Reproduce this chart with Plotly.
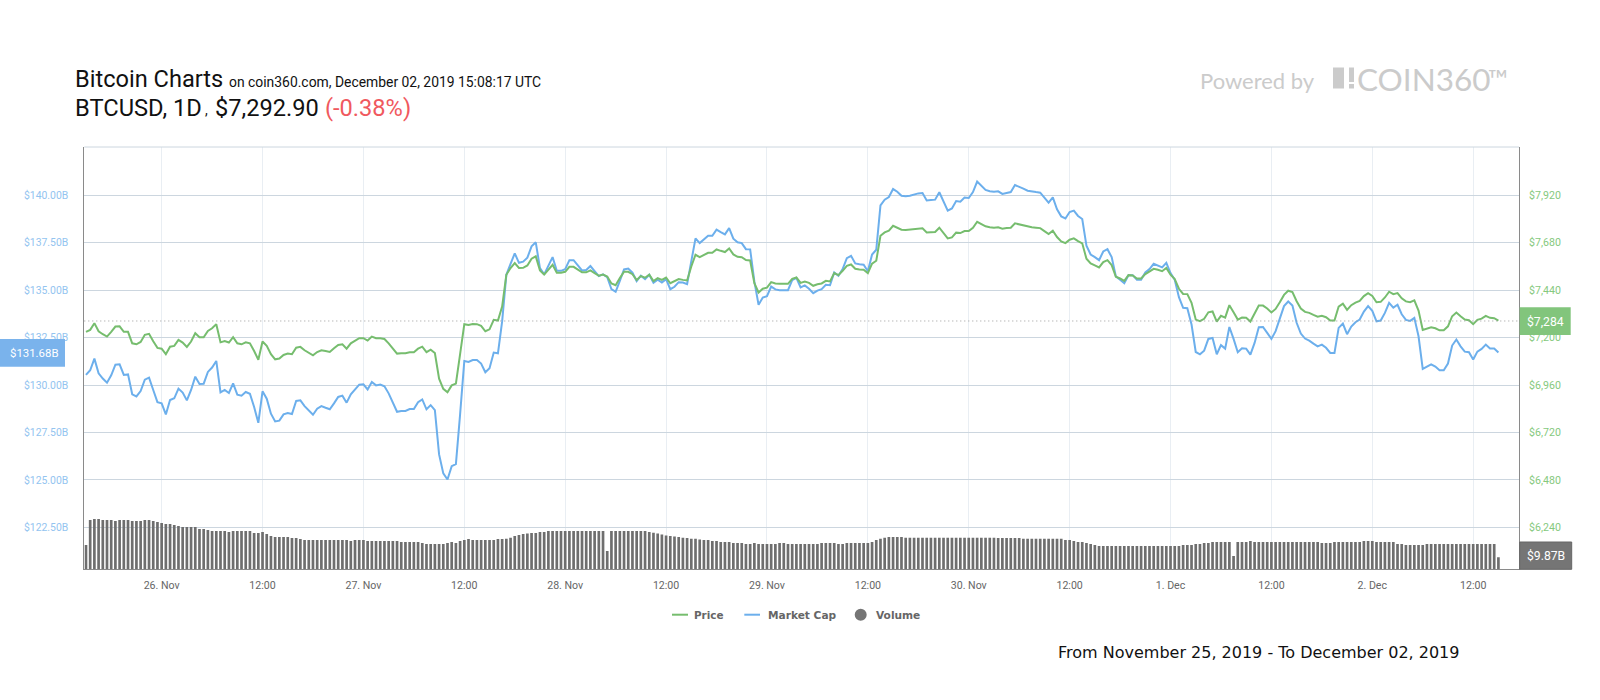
import pandas as pd
import plotly.graph_objects as go

START = "2019-11-25 15:00"

price = [
7229,7239,7273,7232,7217,7205,7229,7256,7257,7229,7229,7171,7166,7178,7214,7219,7181,7148,7144,7116,
7154,7158,7188,7175,7153,7180,7222,7202,7202,7234,7247,7268,7176,7183,7175,7202,7171,7166,7176,7171,
7132,7088,7180,7158,7116,7090,7094,7112,7119,7116,7149,7153,7136,7124,7110,7127,7136,7132,7127,7146,
7163,7166,7144,7171,7183,7197,7197,7185,7205,7197,7197,7193,7171,7146,7119,7121,7121,7126,7126,7144,
7154,7126,7139,7122,6992,6941,6923,6958,6967,7116,7268,7264,7269,7268,7259,7232,7242,7290,
7286,7357,7518,7552,7577,7552,7553,7565,7599,7611,7540,7519,7543,7568,7528,7528,7533,7558,7558,7543,
7530,7530,7540,7526,7513,7519,7509,7474,7465,7501,7533,7533,7521,7491,7511,7503,7518,7486,7501,7492,
7504,7475,7484,7496,7492,7489,7560,7619,7607,7616,7629,7629,7646,7639,7633,7651,7621,7609,7607,7592,
7590,7475,7428,7447,7453,7481,7474,7472,7472,7472,7497,7504,7477,7484,7477,7462,7470,7474,7487,7484,
7526,7516,
7538,7563,7570,7548,7545,7543,7526,7574,7589,7715,7732,7741,7766,7758,7746,7744,7746,7749,7753,7753,
7732,7732,7734,7756,7726,7702,7707,7731,7729,7739,7739,7756,7786,7775,7763,7758,7756,7758,7751,7754,
7756,7778,7773,7768,7761,7758,7756,7754,7739,7724,7741,7709,7687,7678,7695,7702,7688,7677,7599,7575,
7565,7555,7582,7592,7567,7508,7499,7487,7516,7514,7499,7499,7521,7533,7548,7543,7536,7552,7518,7496,
7447,7421,7420,7376,7291,7283,7295,7328,7332,7281,7310,7301,7364,7328,7291,7301,7300,7281,7320,7362,
7362,7347,7327,7345,7379,7416,7437,7430,7384,7347,7330,7325,7315,7306,7310,7303,7286,7286,7357,7372,
7340,7364,7377,7386,7410,7425,7411,7379,7381,7403,7432,7420,7425,7399,7383,7379,7388,7337,7239,7246,
7252,7247,7237,7237,7257,7308,7327,7308,7291,7288,7268,7290,7296,7310,7300,7298,7286,
]

market_cap = [
130.53,130.78,131.39,130.62,130.34,130.12,130.51,131.07,131.09,130.53,130.56,129.51,129.40,129.68,130.28,130.39,129.74,129.10,129.03,128.45,
129.21,129.30,129.81,129.60,129.19,129.74,130.44,130.05,130.07,130.69,130.92,131.27,129.61,129.74,129.58,130.09,129.49,129.44,129.63,129.54,
128.84,128.01,129.67,129.28,128.49,128.08,128.12,128.45,128.52,128.47,129.16,129.19,128.89,128.68,128.43,128.75,128.89,128.80,128.72,129.03,
129.37,129.44,129.07,129.51,129.77,130.02,130.04,129.77,130.16,129.98,130.02,129.93,129.56,129.07,128.59,128.63,128.63,128.73,128.73,129.09,
129.24,128.72,128.94,128.68,126.34,125.34,125.02,125.72,125.83,128.45,131.27,131.22,131.32,131.32,131.13,130.67,130.88,131.71,
131.67,133.35,
135.81,136.39,136.94,136.44,136.50,136.71,137.31,137.52,136.16,135.83,136.25,136.74,136.02,136.02,136.11,136.58,136.58,136.32,136.04,136.06,
136.27,136.00,135.74,135.83,135.69,135.05,134.91,135.49,136.09,136.14,135.92,135.48,135.76,135.58,135.81,135.39,135.55,135.40,135.58,135.05,
135.18,135.42,135.40,135.32,136.51,137.73,137.48,137.66,137.87,137.87,138.19,138.06,137.94,138.27,137.71,137.52,137.48,137.16,137.15,135.46,
134.23,134.61,134.68,135.19,135.04,135.00,135.00,135.00,135.53,135.65,135.14,135.25,135.07,134.84,134.98,135.05,135.28,135.26,135.93,135.76,
136.11,136.69,136.81,136.41,136.37,136.34,136.00,136.88,137.13,139.47,139.77,139.91,140.33,140.19,139.98,139.95,139.98,140.05,140.10,140.12,
139.73,139.75,139.77,140.16,139.65,139.19,139.31,139.70,139.66,139.88,139.86,140.17,140.72,140.51,140.28,140.21,140.19,140.21,140.07,140.12,
140.17,140.54,140.46,140.35,140.24,140.19,140.17,140.14,139.86,139.61,139.89,139.26,138.89,138.78,139.12,139.19,138.91,138.75,137.34,136.88,
136.74,136.58,137.04,137.16,136.74,135.72,135.55,135.37,135.79,135.79,135.55,135.55,135.93,136.11,136.39,136.30,136.20,136.44,135.90,135.55,
134.63,134.07,134.05,133.19,131.74,131.62,131.81,132.43,132.48,131.62,132.10,131.92,133.06,132.43,131.73,131.94,131.92,131.60,132.22,133.05,
133.06,132.75,132.43,132.84,133.49,134.16,134.40,134.19,133.28,132.71,132.45,132.34,132.18,132.04,132.13,131.96,131.69,131.69,133.01,133.24,
132.68,133.08,133.31,133.45,133.87,134.16,133.91,133.36,133.40,133.80,134.33,134.08,134.23,133.73,133.43,133.38,133.54,132.57,130.85,130.99,
131.09,130.97,130.78,130.78,131.13,132.08,132.40,132.04,131.76,131.73,131.34,131.76,131.90,132.13,131.92,131.92,131.71,
]

volume = [
20.0,40.6,41.4,41.4,40.6,40.6,40.6,39.7,40.6,40.6,40.6,39.7,39.7,39.7,40.6,40.6,39.7,38.9,38.1,37.3,
37.3,36.4,35.6,34.8,34.8,34.8,34.8,33.2,33.2,32.3,31.5,31.5,31.5,31.5,30.7,31.5,31.5,31.5,31.5,31.5,
29.9,29.9,30.7,29.0,27.4,26.6,26.6,26.6,26.6,25.8,25.8,24.9,
24.1,24.1,24.1,24.1,24.1,24.1,24.1,24.1,24.1,24.1,24.1,23.3,24.1,24.1,24.1,
23.3,23.3,23.3,23.3,23.3,23.3,23.3,23.3,22.5,22.5,22.5,22.5,22.5,21.6,
20.8,20.8,20.8,20.8,20.8,21.6,22.5,21.6,23.3,24.1,24.9,24.1,24.1,24.1,24.1,24.1,24.1,24.9,
24.9,25.0,26.0,27.4,28.2,29.0,29.5,29.9,29.9,30.7,
30.7,31.5,31.5,31.5,31.5,31.5,31.5,31.5,31.5,31.5,31.5,31.5,31.5,31.5,31.5,
15.0,
31.5,31.5,31.5,31.5,31.5,31.5,31.5,
31.5,31.5,30.7,30.0,29.5,28.5,27.8,27.4,27.0,
26.6,26.0,25.8,25.0,25.0,24.5,24.1,24.1,23.3,23.3,
22.5,22.5,22.5,21.6,21.6,21.6,
20.8,20.8,21.6,20.8,20.8,20.8,20.8,20.8,21.6,21.6,20.8,20.8,20.8,20.8,20.8,
20.8,20.8,20.8,21.6,21.6,21.6,21.6,20.8,20.8,21.6,21.6,21.6,21.6,21.6,21.6,
22.5,24.1,25.0,26.0,
26.6,26.6,26.6,26.6,26.0,26.0,26.0,26.0,26.0,26.0,26.0,26.0,26.0,26.0,26.0,26.0,26.0,26.0,26.0,26.0,26.0,26.0,
26.0,26.0,26.0,26.0,25.8,25.8,25.8,25.8,25.8,25.8,25.0,25.0,25.0,25.0,25.0,25.0,25.0,25.0,25.0,25.0,
24.1,24.1,23.3,22.5,22.5,21.6,20.8,20.0,
19.2,19.2,19.2,19.2,19.2,19.2,19.2,19.2,19.2,19.2,19.2,19.2,19.2,19.2,19.2,19.2,19.2,19.2,19.2,19.2,
20.0,20.0,20.0,
20.8,20.8,21.6,21.6,
22.5,22.5,22.5,22.5,22.5,
11.0,
22.5,22.5,22.5,23.3,
22.5,22.5,22.5,22.5,22.5,22.5,22.5,22.5,22.5,22.5,22.5,22.5,22.5,22.5,22.5,22.5,
21.6,21.6,21.6,
22.5,22.5,22.5,22.5,22.5,22.5,22.5,
23.3,23.3,23.3,
22.5,22.5,22.5,22.5,22.5,
20.8,20.8,
20.0,20.0,20.0,20.0,20.0,
20.8,20.8,20.8,20.8,
20.8,20.8,20.8,20.8,20.8,20.8,20.8,20.8,20.8,20.8,20.8,20.8,20.8,
9.87,
]

x_ticks = ["2019-11-26 00:00","2019-11-26 12:00","2019-11-27 00:00","2019-11-27 12:00","2019-11-28 00:00",
           "2019-11-28 12:00","2019-11-29 00:00","2019-11-29 12:00","2019-11-30 00:00","2019-11-30 12:00",
           "2019-12-01 00:00","2019-12-01 12:00","2019-12-02 00:00","2019-12-02 12:00"]
x_labels = ["26. Nov","12:00","27. Nov","12:00","28. Nov","12:00","29. Nov","12:00","30. Nov","12:00",
            "1. Dec","12:00","2. Dec","12:00"]
cap_ticks = [122.5,125,127.5,130,132.5,135,137.5,140]
cap_labels = ["$122.50B","$125.00B","$127.50B","$130.00B","$132.50B","$135.00B","$137.50B","$140.00B"]
price_ticks = [6240,6480,6720,6960,7200,7440,7680,7920]
price_labels = ["$6,240","$6,480","$6,720","$6,960","$7,200","$7,440","$7,680","$7,920"]
last_price = 7284

assert len(price) == len(market_cap) == len(volume), (len(price), len(market_cap), len(volume))
times = pd.date_range(START, periods=len(price), freq="30min")

GREEN, BLUE = "#76bd6e", "#6cafec"
GREEN_TXT, BLUE_TXT = "#86c97e", "#93c4f0"
GRID_H, GRID_V = "#ccd6df", "#e9eef3"
ROBOTO = "Roboto"

def px(v): return v / 1600
def py(v): return 1 - v / 700

fig = go.Figure()
fig.add_trace(go.Bar(x=times, y=volume, name="Volume", yaxis="y3", marker=dict(color="#6e6e6e", line_width=0),
                     width=1150000, showlegend=False))
fig.add_trace(go.Scatter(x=times, y=price, name="Price", yaxis="y2", mode="lines",
                         line=dict(color=GREEN, width=2), showlegend=False))
fig.add_trace(go.Scatter(x=times, y=market_cap, name="Market Cap", yaxis="y", mode="lines",
                         line=dict(color=BLUE, width=2), showlegend=False))

def text(x, y, s, size, color="#111111", family=ROBOTO, anchor="left", weight=None):
    return dict(xref="paper", yref="paper", x=px(x), y=py(y), text=s, showarrow=False, xanchor=anchor,
                yanchor="middle", align=anchor, font=dict(size=size, color=color, family=family,
                weight=weight if weight else "normal"))

annotations = [
    text(73, 79.5, "Bitcoin Charts", 23.6),
    text(226.5, 81.5, "on coin360.com, December 02, 2019 15:08:17 UTC", 13.9),
    text(73, 108, "BTCUSD, 1D", 23.7),
    text(203, 110, ",", 13.9),
    text(212.5, 108, "$7,292.90", 23.6),
    text(323, 108, "(-0.38%)", 23.6, "#f0595e"),
    text(1198, 80.5, "Powered by", 22, "#cbcbcb", "Lato"),
    text(1355, 79, "COIN360", 31.5, "#cbcbcb", "Lato"),
    text(1486, 78, "™", 27, "#cbcbcb", "Lato"),
    text(1056, 652.5, "From November 25, 2019 - To December 02, 2019", 16, "#111111", "DejaVu Sans"),
    text(692, 614.5, "Price", 10.4, "#666666", "DejaVu Sans", weight="bold"),
    text(765.5, 614.5, "Market Cap", 10.6, "#666666", "DejaVu Sans", weight="bold"),
    text(873.5, 614.5, "Volume", 10.6, "#666666", "DejaVu Sans", weight="bold"),
    text(34, 353, "$131.68B", 11.4, "#ffffff", anchor="center"),
    text(1545, 321.5, f"${last_price:,}", 12.2, "#ffffff", anchor="center"),
    text(1545.5, 556, "$9.87B", 12.2, "#ffffff", anchor="center"),
]

def rect(x0, y0, x1, y1, fill, line=None):
    return dict(type="rect", xref="paper", yref="paper", x0=px(x0), x1=px(x1), y0=py(y0), y1=py(y1),
                fillcolor=fill, line=dict(color=line or fill, width=1 if line else 0), layer="above")

def hline(x0, x1, y, color, width=2):
    return dict(type="line", xref="paper", yref="paper", x0=px(x0), x1=px(x1), y0=py(y), y1=py(y),
                line=dict(color=color, width=width), layer="above")

shapes = [
    dict(type="line", xref="paper", yref="y2", x0=px(84.3), x1=px(1519), y0=last_price, y1=last_price,
         line=dict(color="#9a9a9a", width=1, dash="1px,3px"), layer="above"),
    hline(84.3, 1519, 147, GRID_H, 1),
    rect(0, 339, 65, 366.7, "#7ab3ec"),
    rect(1519.7, 307.3, 1570.7, 335, "#82c57c"),
    rect(1519.7, 542, 1571.7, 569.3, "#757575", "#666666"),
    hline(672, 688, 614.7, GREEN),
    hline(744.3, 760, 614.7, BLUE),
    dict(type="circle", xref="paper", yref="paper", x0=px(854.7), x1=px(866.7), y0=py(620.7), y1=py(608.7),
         fillcolor="#757575", line_width=0, layer="above"),
    rect(1333, 67.5, 1344, 88.5, "#cbcbcb"),
    rect(1349, 67.5, 1354, 82, "#cbcbcb"),
    rect(1349, 84, 1354, 88.5, "#cbcbcb"),
]

X0, X1 = 84.3, 1519
Y_TOP, Y_BOT = 147, 569.3

fig.update_layout(
    width=1600, height=700, margin=dict(l=0, r=0, t=0, b=0, autoexpand=False),
    paper_bgcolor="#ffffff", plot_bgcolor="#ffffff", showlegend=False, barmode="overlay",
    annotations=annotations, shapes=shapes, font=dict(family=ROBOTO),
    xaxis=dict(domain=[px(X0), px(X1)], type="date", range=["2019-11-25 14:48", "2019-12-02 17:27"],
               tickmode="array", tickvals=x_ticks, ticktext=x_labels, showgrid=True, gridcolor=GRID_V, gridwidth=1,
               showline=True, linecolor="#8a8a8a", linewidth=1, ticks="", zeroline=False, ticklabelstandoff=6,
               tickfont=dict(size=10.6, color="#666666", family=ROBOTO), anchor="y"),
    yaxis=dict(domain=[py(Y_BOT), py(Y_TOP)], range=[120.286, 142.546], tickmode="array", tickvals=cap_ticks,
               ticktext=cap_labels, showgrid=True, gridcolor=GRID_H, gridwidth=1, showline=True, linecolor="#8a8a8a",
               linewidth=1, ticks="", zeroline=False, ticklabelstandoff=13, anchor="x", side="left",
               tickfont=dict(size=10.4, color=BLUE_TXT, family=ROBOTO)),
    yaxis2=dict(overlaying="y", side="right", range=[6027.5, 8164.4], tickmode="array", tickvals=price_ticks,
                ticktext=price_labels, showgrid=False, showline=True, linecolor="#8a8a8a", linewidth=1, ticks="",
                zeroline=False, ticklabelstandoff=7, anchor="x",
                tickfont=dict(size=10.6, color=GREEN_TXT, family=ROBOTO)),
    yaxis3=dict(overlaying="y", side="left", range=[0, 347], visible=False, anchor="x"),
)

fig.write_html("out.html", post_script="document.body.style.margin='0';", config={"displayModeBar": False})
